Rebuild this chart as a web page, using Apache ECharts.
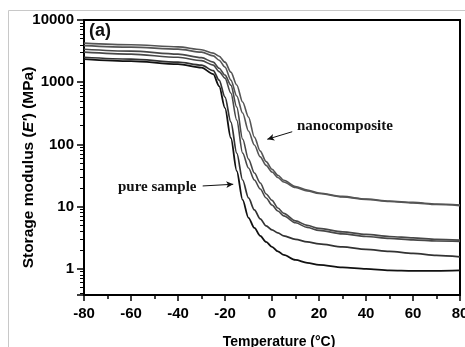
<!DOCTYPE html>
<html>
<head>
<meta charset="utf-8">
<script src="https://cdn.jsdelivr.net/npm/echarts@6/dist/echarts.min.js"></script>
<style>
  html, body { margin: 0; padding: 0; background: #fff; }
  #chart { width: 465px; height: 347px; }
</style>
</head>
<body>
<div id="chart"></div>
<script>
// temperature (°C) shared by every curve
const temperature = [-80, -60, -40, -30, -25, -22.5, -20, -17.5, -15, -12.5, -10, -7.5, -5, -2.5, 0, 2.5, 5, 10, 15, 20, 30, 40, 50, 60, 70, 80];

// storage modulus E' (MPa)
const nanoOuter = [4250, 4000, 3700, 3330, 2930, 2620, 2100, 1450, 900, 480, 275, 131, 78, 53, 40, 32, 26.5, 21, 18.5, 16.6, 14.6, 13.3, 12.3, 11.7, 11.0, 10.6];
const nanoInner = [3870, 3660, 3400, 3040, 2650, 2260, 1750, 1080, 600, 320, 164, 98, 63, 46, 36, 29.4, 24.9, 20.3, 17.9, 16.3, 14.3, 13.1, 12.1, 11.5, 10.8, 10.4];
const midOuter = [3390, 3160, 2830, 2480, 2100, 1680, 1300, 898, 398, 122, 58, 34.7, 24, 16, 12.6, 9.5, 7.8, 5.9, 5.0, 4.47, 3.93, 3.58, 3.32, 3.15, 2.98, 2.9];
const midInner = [3040, 2830, 2520, 2220, 1880, 1480, 1164, 668, 246, 72.8, 41.8, 26.8, 19.2, 13.8, 10.6, 8.5, 7.1, 5.5, 4.64, 4.15, 3.65, 3.32, 3.09, 2.92, 2.81, 2.76];
const lowSample = [2520, 2350, 2100, 1880, 1535, 1080, 575, 229, 72.8, 26.8, 13.8, 8.85, 6.35, 4.9, 4.23, 3.78, 3.39, 2.98, 2.71, 2.52, 2.25, 2.06, 1.91, 1.77, 1.65, 1.56];
const pureSample = [2350, 2180, 1950, 1715, 1350, 866, 384, 127, 37.4, 12.8, 6.6, 4.55, 3.39, 2.71, 2.25, 1.91, 1.68, 1.39, 1.25, 1.16, 1.057, 1.0, 0.946, 0.93, 0.93, 0.946];

// axes
const xTicks = [-80, -60, -40, -20, 0, 20, 40, 60, 80];
const yTicks = [1, 10, 100, 1000, 10000];
const yMin = 0.38;

// annotation arrows [from, to] in data units
const nanoArrow = [[8.6, 160], [-2.0, 121]];
const pureArrow = [[-29.5, 21.5], [-16.5, 22.9]];

const sans = 'Liberation Sans';

const pair = (arr) => temperature.map((t, i) => [t, arr[i]]);

const curve = (name, arr, color, width) => ({
    name: name,
    type: 'line',
    data: pair(arr),
    showSymbol: false,
    smooth: 0.3,
    smoothMonotone: 'x',
    lineStyle: {color: color, width: width},
    silent: true,
    z: 3
});

const arrowLine = (pts) => ({
    silent: true,
    symbol: ['none', 'arrow'],
    symbolSize: [5, 7],
    label: {show: false},
    lineStyle: {color: '#111', width: 1, type: 'solid'},
    data: [[{coord: pts[0]}, {coord: pts[1]}]]
});

const chart = echarts.init(document.getElementById('chart'));

const series = [
    curve('nano-1', nanoOuter, '#555', 1.6),
    curve('nano-2', nanoInner, '#555', 1.6),
    curve('mid-1', midOuter, '#484848', 1.6),
    curve('mid-2', midInner, '#484848', 1.6),
    curve('low', lowSample, '#333', 1.7),
    curve('pure', pureSample, '#111', 1.8)
];
series[0].markLine = arrowLine(nanoArrow);
series[5].markLine = arrowLine(pureArrow);

chart.setOption({
    animation: false,
    backgroundColor: '#fff',
    grid: {
        left: 84, right: 5, top: 20, bottom: 52,
        outerBoundsMode: 'none',
        show: true, borderColor: '#000', borderWidth: 2
    },
    xAxis: {
        type: 'value',
        min: xTicks[0],
        max: xTicks[xTicks.length - 1],
        interval: 20,
        axisLine: {show: true, onZero: false, lineStyle: {color: '#000', width: 2}},
        axisTick: {show: true, length: 6, lineStyle: {color: '#000', width: 1.5}},
        minorTick: {show: true, splitNumber: 2, length: 4, lineStyle: {color: '#000', width: 1.5}},
        splitLine: {show: false},
        axisLabel: {
            color: '#000', fontFamily: sans, fontWeight: 'bold', fontSize: 15, margin: 11
        },
        name: 'Temperature (°C)',
        nameLocation: 'middle',
        nameGap: 40,
        nameMoveOverlap: false,
        nameTextStyle: {color: '#000', fontFamily: sans, fontWeight: 'bold', fontSize: 14, padding: [0, 0, 0, 14]}
    },
    yAxis: {
        type: 'log',
        logBase: 10,
        min: yMin,
        max: yTicks[yTicks.length - 1],
        axisLine: {show: true, onZero: false, lineStyle: {color: '#000', width: 2}},
        axisTick: {show: true, length: 7, lineStyle: {color: '#000', width: 1.5}},
        minorTick: {show: true, splitNumber: 9, length: 4, lineStyle: {color: '#000', width: 1}},
        splitLine: {show: false},
        axisLabel: {
            color: '#000', fontFamily: sans, fontWeight: 'bold', fontSize: 15, margin: 10,
            formatter: (v) => {
                const r = Math.round(v);
                return (Math.abs(v - r) < 1e-6 && yTicks.indexOf(r) >= 0) ? String(r) : '';
            }
        },
        name: 'Storage modulus ({i|E\'}) (MPa)',
        nameLocation: 'middle',
        nameGap: 47,
        nameRotate: 90,
        nameMoveOverlap: false,
        nameTextStyle: {
            color: '#000', fontFamily: sans, fontWeight: 'bold', fontSize: 15.5,
            padding: [0, 20, 0, 0],
            rich: {i: {fontStyle: 'italic', fontWeight: 'bold', fontFamily: sans, fontSize: 15.5, color: '#000'}}
        }
    },
    series: series,
    graphic: [
        {
            type: 'rect', silent: true, z: -1,
            shape: {x: 8.5, y: 10.5, width: 470, height: 350},
            style: {fill: 'none', stroke: '#c8c8c8', lineWidth: 1}
        },
        {
            type: 'text', left: 89, top: 22,
            style: {text: '(a)', font: 'bold 18px "Liberation Sans"', fill: '#111'}
        },
        {
            type: 'text', left: 297, top: 119,
            style: {text: 'nanocomposite', font: 'bold 15px "Liberation Serif"', fill: '#111'}
        },
        {
            type: 'text', left: 118, top: 180,
            style: {text: 'pure sample', font: 'bold 15px "Liberation Serif"', fill: '#111'}
        }
    ]
});
</script>
</body>
</html>
